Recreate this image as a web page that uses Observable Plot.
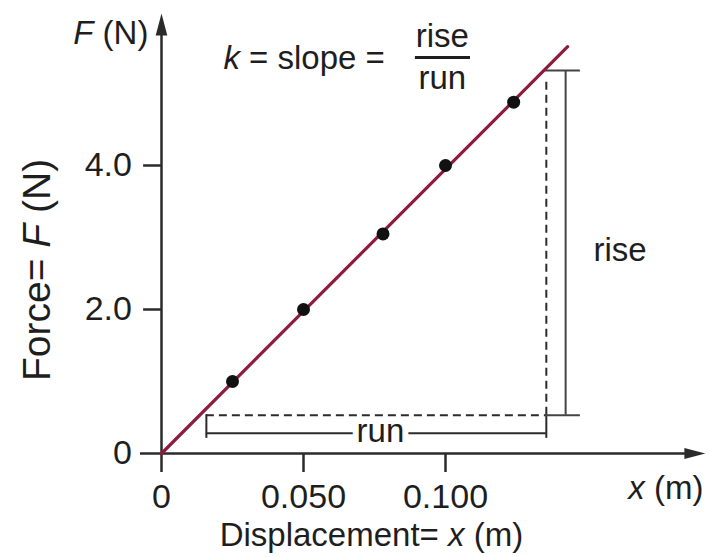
<!DOCTYPE html>
<html><head><meta charset="utf-8">
<script src="https://cdn.jsdelivr.net/npm/d3@7"></script>
<script src="https://cdn.jsdelivr.net/npm/@observablehq/plot@0.6"></script>
<style>
html,body{margin:0;padding:0;background:#fff;}
#chart svg{display:block;}
</style>
</head><body><div id="chart"></div>
<script>
const displacement = [0.025, 0.050, 0.078, 0.100, 0.124];   // x (m)
const force        = [1.00, 2.00, 3.05, 4.00, 4.88];         // F (N)
const fitX = [0, 0.143];        // best-fit line ends (m)
const fitF = [0, 5.65];         // best-fit line ends (N)

const xTickValues = [0, 0.05, 0.1];
const xTickLabels = ["0", "0.050", "0.100"];
const yTickValues = [0, 2, 4];
const yTickLabels = ["0", "2.0", "4.0"];

// rise / run construction (data units)
const runX  = [0.0158, 0.1355];   // horizontal extent of "run"
const riseF = [0.53, 5.32];       // vertical extent of "rise"
const runBracketF = [0.28];       // height of the run bracket
const runCapF = [0.21, 0.54];
const riseBracketX = [0.1423];
const riseCapX = [0.1352, 0.1475];
const dashTopF = 5.2;

// axis extents (data units)
const xAxisExtent = [-0.0074, 0.1915];
const yAxisExtent = [-0.264, 6.11];

// texts: {letter} is italic
const labelsStart = [
  {text: "{k} = slope =", x: 0.0218, y: 5.347},
  {text: "rise", x: 0.1521, y: 2.68}
];
const labelsMiddle = [
  {text: "rise", x: 0.0989, y: 5.639},
  {text: "run", x: 0.0989, y: 5.069},
  {text: "Displacement= {x} (m)", x: 0.0739, y: -1.278}
];
const labelsEnd = [
  {text: "{F} (N)", x: -0.0046, y: 5.694},
  {text: "{x} (m)", x: 0.1908, y: -0.625}
];
const fractionBar = {y: 5.5, x1: 0.0894, x2: 0.1088};
const runLabel = {text: "run", x: 0.0771, y: 0.153};
const yTitle = {text: "Force= {F} (N)", x: -0.0437, y: 2.55};

const points = displacement.map((d, i) => ({x: d, F: force[i]}));
const fit = fitX.map((d, i) => ({x: d, F: fitF[i]}));

const arrowUp = {draw(ctx) { ctx.moveTo(0, 0); ctx.lineTo(-5.8, 22); ctx.lineTo(5.8, 22); ctx.closePath(); }};
const arrowRight = {draw(ctx) { ctx.moveTo(0, 0); ctx.lineTo(-21, -5.5); ctx.lineTo(-21, 5.5); ctx.closePath(); }};

const ink = "#2b2b2b";
const textInk = "#1e1e1e";
const font = "'Liberation Sans', Arial, Helvetica, sans-serif";
const labelSize = 33;
const tickSize = 34;
const yTitleSize = 39;

const chart = Plot.plot({
  width: 710,
  height: 558,
  margin: 0,
  style: {fontFamily: font, background: "#fff", color: ink},
  x: {domain: [0, 0.1], range: [161, 445], axis: null},
  y: {domain: [0, 4], range: [453, 165], axis: null},
  marks: [
    // dashed guides
    Plot.ruleY([riseF[0]], {x1: runX[0], x2: runX[1], stroke: ink, strokeWidth: 2, strokeDasharray: "8,5"}),
    Plot.ruleX([runX[1]], {y1: riseF[0], y2: dashTopF, stroke: ink, strokeWidth: 2, strokeDasharray: "8,5"}),
    // run bracket
    Plot.ruleY(runBracketF, {x1: runX[0], x2: runX[1], stroke: ink, strokeWidth: 2}),
    Plot.ruleX(runX, {y1: runCapF[0], y2: runCapF[1], stroke: ink, strokeWidth: 2}),
    Plot.text([runLabel], {x: "x", y: "y", text: "text", fontSize: labelSize, lineAnchor: "bottom", textAnchor: "middle", fill: textInk, stroke: "white", strokeWidth: 12}),
    // rise bracket
    Plot.ruleX(riseBracketX, {y1: riseF[0], y2: riseF[1], stroke: "#444", strokeWidth: 2}),
    Plot.ruleY(riseF, {x1: riseCapX[0], x2: riseCapX[1], stroke: "#444", strokeWidth: 2}),
    // axes
    Plot.ruleY([0], {x1: xAxisExtent[0], x2: xAxisExtent[1] - 0.006, stroke: ink, strokeWidth: 2.5}),
    Plot.ruleX([0], {y1: yAxisExtent[0], y2: yAxisExtent[1] - 0.25, stroke: ink, strokeWidth: 2.5}),
    Plot.dot([{x: xAxisExtent[1], F: 0}], {x: "x", y: "F", symbol: arrowRight, fill: ink, stroke: "none"}),
    Plot.dot([{x: 0, F: yAxisExtent[1]}], {x: "x", y: "F", symbol: arrowUp, fill: ink, stroke: "none"}),
    // ticks
    Plot.ruleX(xTickValues.slice(1), {y1: 0, y2: yAxisExtent[0], stroke: ink, strokeWidth: 2.5}),
    Plot.ruleY(yTickValues.slice(1), {x1: -0.0063, x2: 0, stroke: ink, strokeWidth: 2.5}),
    Plot.text(xTickValues, {x: d => d, y: -0.75, text: (d, i) => xTickLabels[i], fontSize: tickSize, lineAnchor: "bottom", textAnchor: "middle", fill: textInk}),
    Plot.text(yTickValues, {x: -0.0104, y: d => d, text: (d, i) => yTickLabels[i], fontSize: tickSize, lineAnchor: "middle", textAnchor: "end", fill: textInk}),
    // best-fit line and data
    Plot.line(fit, {x: "x", y: "F", stroke: "#8e1b3d", strokeWidth: 3.2}),
    Plot.dot(points, {x: "x", y: "F", r: 6.5, fill: "#111", stroke: "none"}),
    // fraction bar
    Plot.ruleY([fractionBar.y], {x1: fractionBar.x1, x2: fractionBar.x2, stroke: textInk, strokeWidth: 3}),
    // labels
    Plot.text(labelsStart, {x: "x", y: "y", text: "text", fontSize: labelSize, textAnchor: "start", lineAnchor: "bottom", fill: textInk}),
    Plot.text(labelsMiddle, {x: "x", y: "y", text: "text", fontSize: labelSize, textAnchor: "middle", lineAnchor: "bottom", fill: textInk}),
    Plot.text(labelsEnd, {x: "x", y: "y", text: "text", fontSize: labelSize, textAnchor: "end", lineAnchor: "bottom", fill: textInk}),
    Plot.text([yTitle], {x: "x", y: "y", text: "text", rotate: -90, fontSize: yTitleSize, textAnchor: "middle", lineAnchor: "middle", fill: textInk})
  ]
});

document.getElementById("chart").appendChild(chart);

// italicise {letter} segments
d3.select(chart).selectAll("text").each(function () {
  const t = this.textContent;
  if (!t || t.indexOf("{") < 0) return;
  const parts = t.split(/(\{[^}]*\})/).filter(s => s.length);
  this.textContent = "";
  for (const p of parts) {
    const ts = document.createElementNS("http://www.w3.org/2000/svg", "tspan");
    if (p.startsWith("{")) { ts.textContent = p.slice(1, -1); ts.setAttribute("font-style", "italic"); }
    else ts.textContent = p;
    this.appendChild(ts);
  }
});
</script>
</body></html>
